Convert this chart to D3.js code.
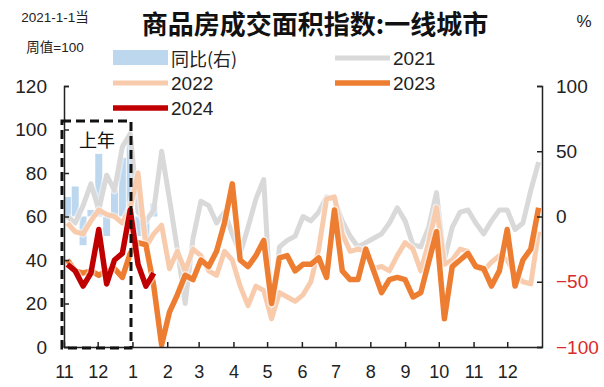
<!DOCTYPE html>
<html>
<head>
<meta charset="utf-8">
<script src="https://cdn.jsdelivr.net/npm/d3@7"></script>
<style>
  body { margin: 0; background: #fff; }
  svg { display: block; font-family: "Liberation Sans", Arial, sans-serif; }
</style>
</head>
<body>
<svg id="chart" width="604" height="387"></svg>
<script>
// month ticks: day offset from Nov 1 of previous year
const monthDays = [0, 30, 61, 92, 120, 151, 181, 212, 242, 273, 304, 334, 365, 395]
const monthLabels = ["11", "12", "1", "2", "3", "4", "5", "6", "7", "8", "9", "10", "11", "12"]
const leftTicks = [0, 20, 40, 60, 80, 100, 120]
const rightTicks = [-100, -50, 0, 50, 100]

// weekly index (2021-1-1 week = 100), starting with Nov of previous year
const y2021 = [60, 57, 65, 75, 63, 79, 72, 92, 98, 62, 58, 63, 90, 68, 45, 20, 50, 67, 65, 57,
  62, 52, 43, 55, 68, 77, 13, 46, 49, 51, 60, 58, 62, 69, 68, 58, 51, 46, 48, 50,
  52, 57, 64, 58, 47, 46, 55, 71, 40, 55, 62, 63, 57, 52, 58, 63, 63, 54, 57, 72, 85]
const y2022 = [57, 53, 52, 58, 63, 61, 60, 57, 64, 80, 46, 52, 56, 36, 44, 35, 45, 42, 35, 33,
  44, 40, 28, 19, 28, 26, 13, 25, 23, 21, 24, 30, 45, 68, 69, 52, 44, 45, 44, 36,
  37, 35, 42, 48, 45, 35, 48, 64, 38, 40, 45, 44, 37, 35, 39, 42, 40, 33, 30, 29, 53]
const y2023 = [40, 35, 34, 35, 33, 35, 36, 32, 43, 48, 47, 28, 1, 16, 24, 33, 31, 40, 37, 44,
  57, 75, 40, 37, 42, 49, 20, 41, 42, 35, 38, 38, 41, 32, 63, 35, 31, 31, 45, 35,
  25, 31, 32, 31, 23, 25, 39, 53, 13, 37, 40, 43, 37, 36, 28, 35, 54, 28, 40, 45, 64]
const y2024 = [38, 35, 28, 34, 54, 29, 40, 43, 63, 38, 28, 34]
// year on year change of 2024, %
const yoy = [15, 23, -22, 5, 48, -15, 20, 45, 58, -15, -18, 10]

const series = [
  {name: "2021", values: y2021, color: "#d9d9d9", width: 5},
  {name: "2022", values: y2022, color: "#f8cbad", width: 5},
  {name: "2023", values: y2023, color: "#ed7d31", width: 5.5},
  {name: "2024", values: y2024, color: "#c00000", width: 5.5}
]

const svg = d3.select("#chart")

const x = d3.scaleLinear().domain([0, 426]).range([64, 542])
const weekDay = i => 3 + 7 * i
const yL = d3.scaleLinear().domain([0, 120]).range([347, 86])
const yR = d3.scaleLinear().domain([-100, 100]).range([347, 86])

// yoy bars
svg.append("g")
  .selectAll("rect")
  .data(yoy)
  .enter().append("rect")
  .attr("x", (d, i) => x(weekDay(i)) - 3.5)
  .attr("width", 7)
  .attr("y", d => Math.min(yR(d), yR(0)))
  .attr("height", d => Math.abs(yR(d) - yR(0)))
  .attr("fill", "#bdd7ee")

// lines
const line = d3.line()
  .x((d, i) => x(weekDay(i)))
  .y(d => yL(d))

const lines = svg.append("g")
series.forEach(s => {
  lines.append("path")
    .attr("d", line(s.values))
    .attr("fill", "none")
    .attr("stroke", "#fff")
    .attr("stroke-opacity", 0.5)
    .attr("stroke-width", s.width + 3)
    .attr("stroke-linejoin", "round")
  lines.append("path")
    .attr("d", line(s.values))
    .attr("fill", "none")
    .attr("stroke", s.color)
    .attr("stroke-width", s.width)
    .attr("stroke-linejoin", "round")
})

// axes
const gLeft = svg.append("g")
  .attr("transform", "translate(64,0)")
  .call(d3.axisLeft(yL).tickValues(leftTicks).tickSize(-5).tickPadding(17))
const gRight = svg.append("g")
  .attr("transform", "translate(542,0)")
  .call(d3.axisRight(yR).tickValues(rightTicks).tickSize(-5).tickPadding(14))
const gBottom = svg.append("g")
  .attr("transform", "translate(0,347)")
  .call(d3.axisBottom(x).tickValues(monthDays)
    .tickFormat((d, i) => monthLabels[i])
    .tickSize(-5).tickSizeOuter(0).tickPadding(18))

;[gLeft, gRight, gBottom].forEach(g => {
  g.select(".domain").attr("stroke", "#222").attr("stroke-width", 1.5)
  g.selectAll(".tick line").attr("stroke", "#222").attr("stroke-width", 1.5)
  g.selectAll("text").attr("font-size", 19).attr("fill", "#222")
    .attr("font-family", "'Liberation Sans', Arial, sans-serif")
})
gBottom.selectAll("text").attr("font-size", 18)
gRight.selectAll("text").attr("fill", d => d < 0 ? "#d92b2b" : "#222")

// previous-year box
svg.append("rect")
  .attr("x", 62).attr("y", 121)
  .attr("width", 69).attr("height", 227)
  .attr("fill", "none")
  .attr("stroke", "#111")
  .attr("stroke-width", 3)
  .attr("stroke-dasharray", "9,5")
svg.append("text")
  .attr("x", 97).attr("y", 139)
  .attr("text-anchor", "middle")
  .attr("dominant-baseline", "central")
  .attr("font-family", "'Noto Sans CJK SC'")
  .attr("font-size", 18)
  .attr("fill", "#111")
  .text("上年")

// title and units
svg.append("text")
  .attr("x", 315).attr("y", 22)
  .attr("text-anchor", "middle")
  .attr("dominant-baseline", "central")
  .attr("font-family", "'Noto Sans CJK SC'")
  .attr("font-weight", "bold")
  .attr("font-size", 26)
  .attr("fill", "#111")
  .text("商品房成交面积指数:一线城市")

svg.append("text")
  .attr("x", 55).attr("y", 17)
  .attr("text-anchor", "middle")
  .attr("dominant-baseline", "central")
  .attr("font-family", "'Liberation Sans', 'Noto Sans CJK SC'")
  .attr("font-size", 13.5)
  .attr("fill", "#222")
  .text("2021-1-1当")
svg.append("text")
  .attr("x", 55).attr("y", 47)
  .attr("text-anchor", "middle")
  .attr("dominant-baseline", "central")
  .attr("font-family", "'Liberation Sans', 'Noto Sans CJK SC'")
  .attr("font-size", 13.5)
  .attr("fill", "#222")
  .text("周值=100")
svg.append("text")
  .attr("x", 584).attr("y", 21)
  .attr("text-anchor", "middle")
  .attr("dominant-baseline", "central")
  .attr("font-size", 17)
  .attr("fill", "#222")
  .text("%")

// legend
const legend = svg.append("g")
legend.append("rect")
  .attr("x", 113).attr("y", 50).attr("width", 55).attr("height", 15)
  .attr("fill", "#bdd7ee")
const legendItems = [
  {s: series[0], lx: 335, ly: 58},
  {s: series[1], lx: 113, ly: 83},
  {s: series[2], lx: 335, ly: 83},
  {s: series[3], lx: 113, ly: 108}
]
legendItems.forEach(d => {
  legend.append("line")
    .attr("x1", d.lx).attr("x2", d.lx + 55)
    .attr("y1", d.ly).attr("y2", d.ly)
    .attr("stroke", d.s.color)
    .attr("stroke-width", d.s.width)
  legend.append("text")
    .attr("x", d.lx + 58).attr("y", d.ly)
    .attr("dominant-baseline", "central")
    .attr("font-size", 19)
    .attr("fill", "#222")
    .text(d.s.name)
})
legend.append("text")
  .attr("x", 171).attr("y", 58)
  .attr("dominant-baseline", "central")
  .attr("font-family", "'Noto Sans CJK SC'")
  .attr("font-size", 18)
  .attr("fill", "#222")
  .text("同比(右)")
</script>
</body>
</html>
